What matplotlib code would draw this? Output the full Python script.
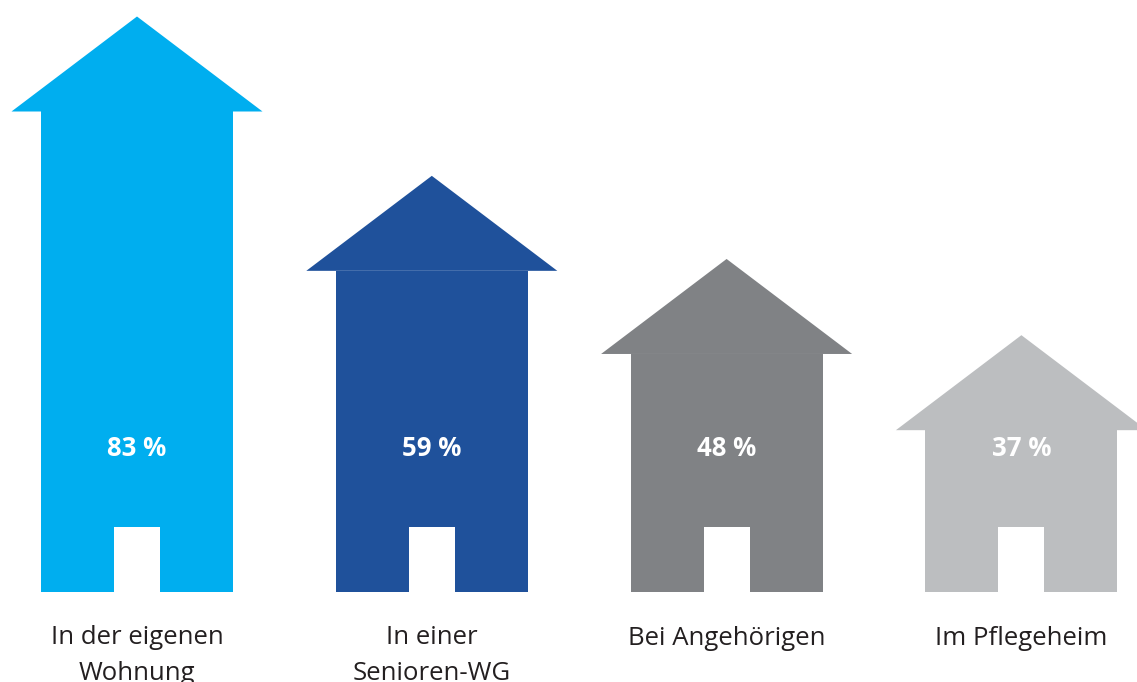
import matplotlib
matplotlib.use("Agg")
import matplotlib.pyplot as plt
from matplotlib.patches import Polygon, Rectangle

categories = ["In der eigenen\nWohnung", "In einer\nSenioren-WG", "Bei Angehörigen", "Im Pflegeheim"]
values = [83, 59, 48, 37]              # printed percentages
house_heights = [83, 60, 48, 37]       # heights of the drawn houses
value_labels = ["83 %", "59 %", "48 %", "37 %"]
colors = ["#00AEEF", "#1F519B", "#808285", "#BCBEC0"]

W, H = 1137, 682
fig = plt.figure(figsize=(W / 100, H / 100), dpi=100)
ax = fig.add_axes([0, 0, 1, 1])
ax.set_axis_off()

px_per_unit = 575 / 83.0
base_from_bottom = 682 - 591.5
ax.set_ylim(-base_from_bottom / px_per_unit, (H - base_from_bottom) / px_per_unit)
spacing = 294.8
c0 = 137
ax.set_xlim(-c0 / spacing, (W - c0) / spacing)

body_hw = 96 / spacing
roof_hw = 125.5 / spacing
door_hw = 23 / spacing
door_h = 64.5 / px_per_unit
roof_h = 95 / px_per_unit
label_y = 142.5 / px_per_unit
cat_y = -(645.3 - 591.5) / px_per_unit
line_step = 35 / px_per_unit

for i, (v, col, lab, cat) in enumerate(zip(house_heights, colors, value_labels, categories)):
    top = v - roof_h
    ax.add_patch(Rectangle((i - body_hw, 0), 2 * body_hw, top, facecolor=col, edgecolor="none"))
    ax.add_patch(Polygon([(i - roof_hw, top), (i, v), (i + roof_hw, top)], closed=True,
                         facecolor=col, edgecolor="none"))
    ax.add_patch(Rectangle((i - door_hw, 0), 2 * door_hw, door_h, facecolor="white", edgecolor="none"))
    ax.text(i, label_y, lab, ha="center", va="center", color="white",
            fontsize=18.5, fontweight="bold", family="Open Sans")
    n_lines = cat.count("\n") + 1
    ax.text(i, cat_y - (n_lines - 1) * line_step, cat, ha="center", va="baseline", color="#231F20",
            fontsize=18.5, family="Open Sans", linespacing=1.57)

fig.savefig("out.png", dpi=100)
